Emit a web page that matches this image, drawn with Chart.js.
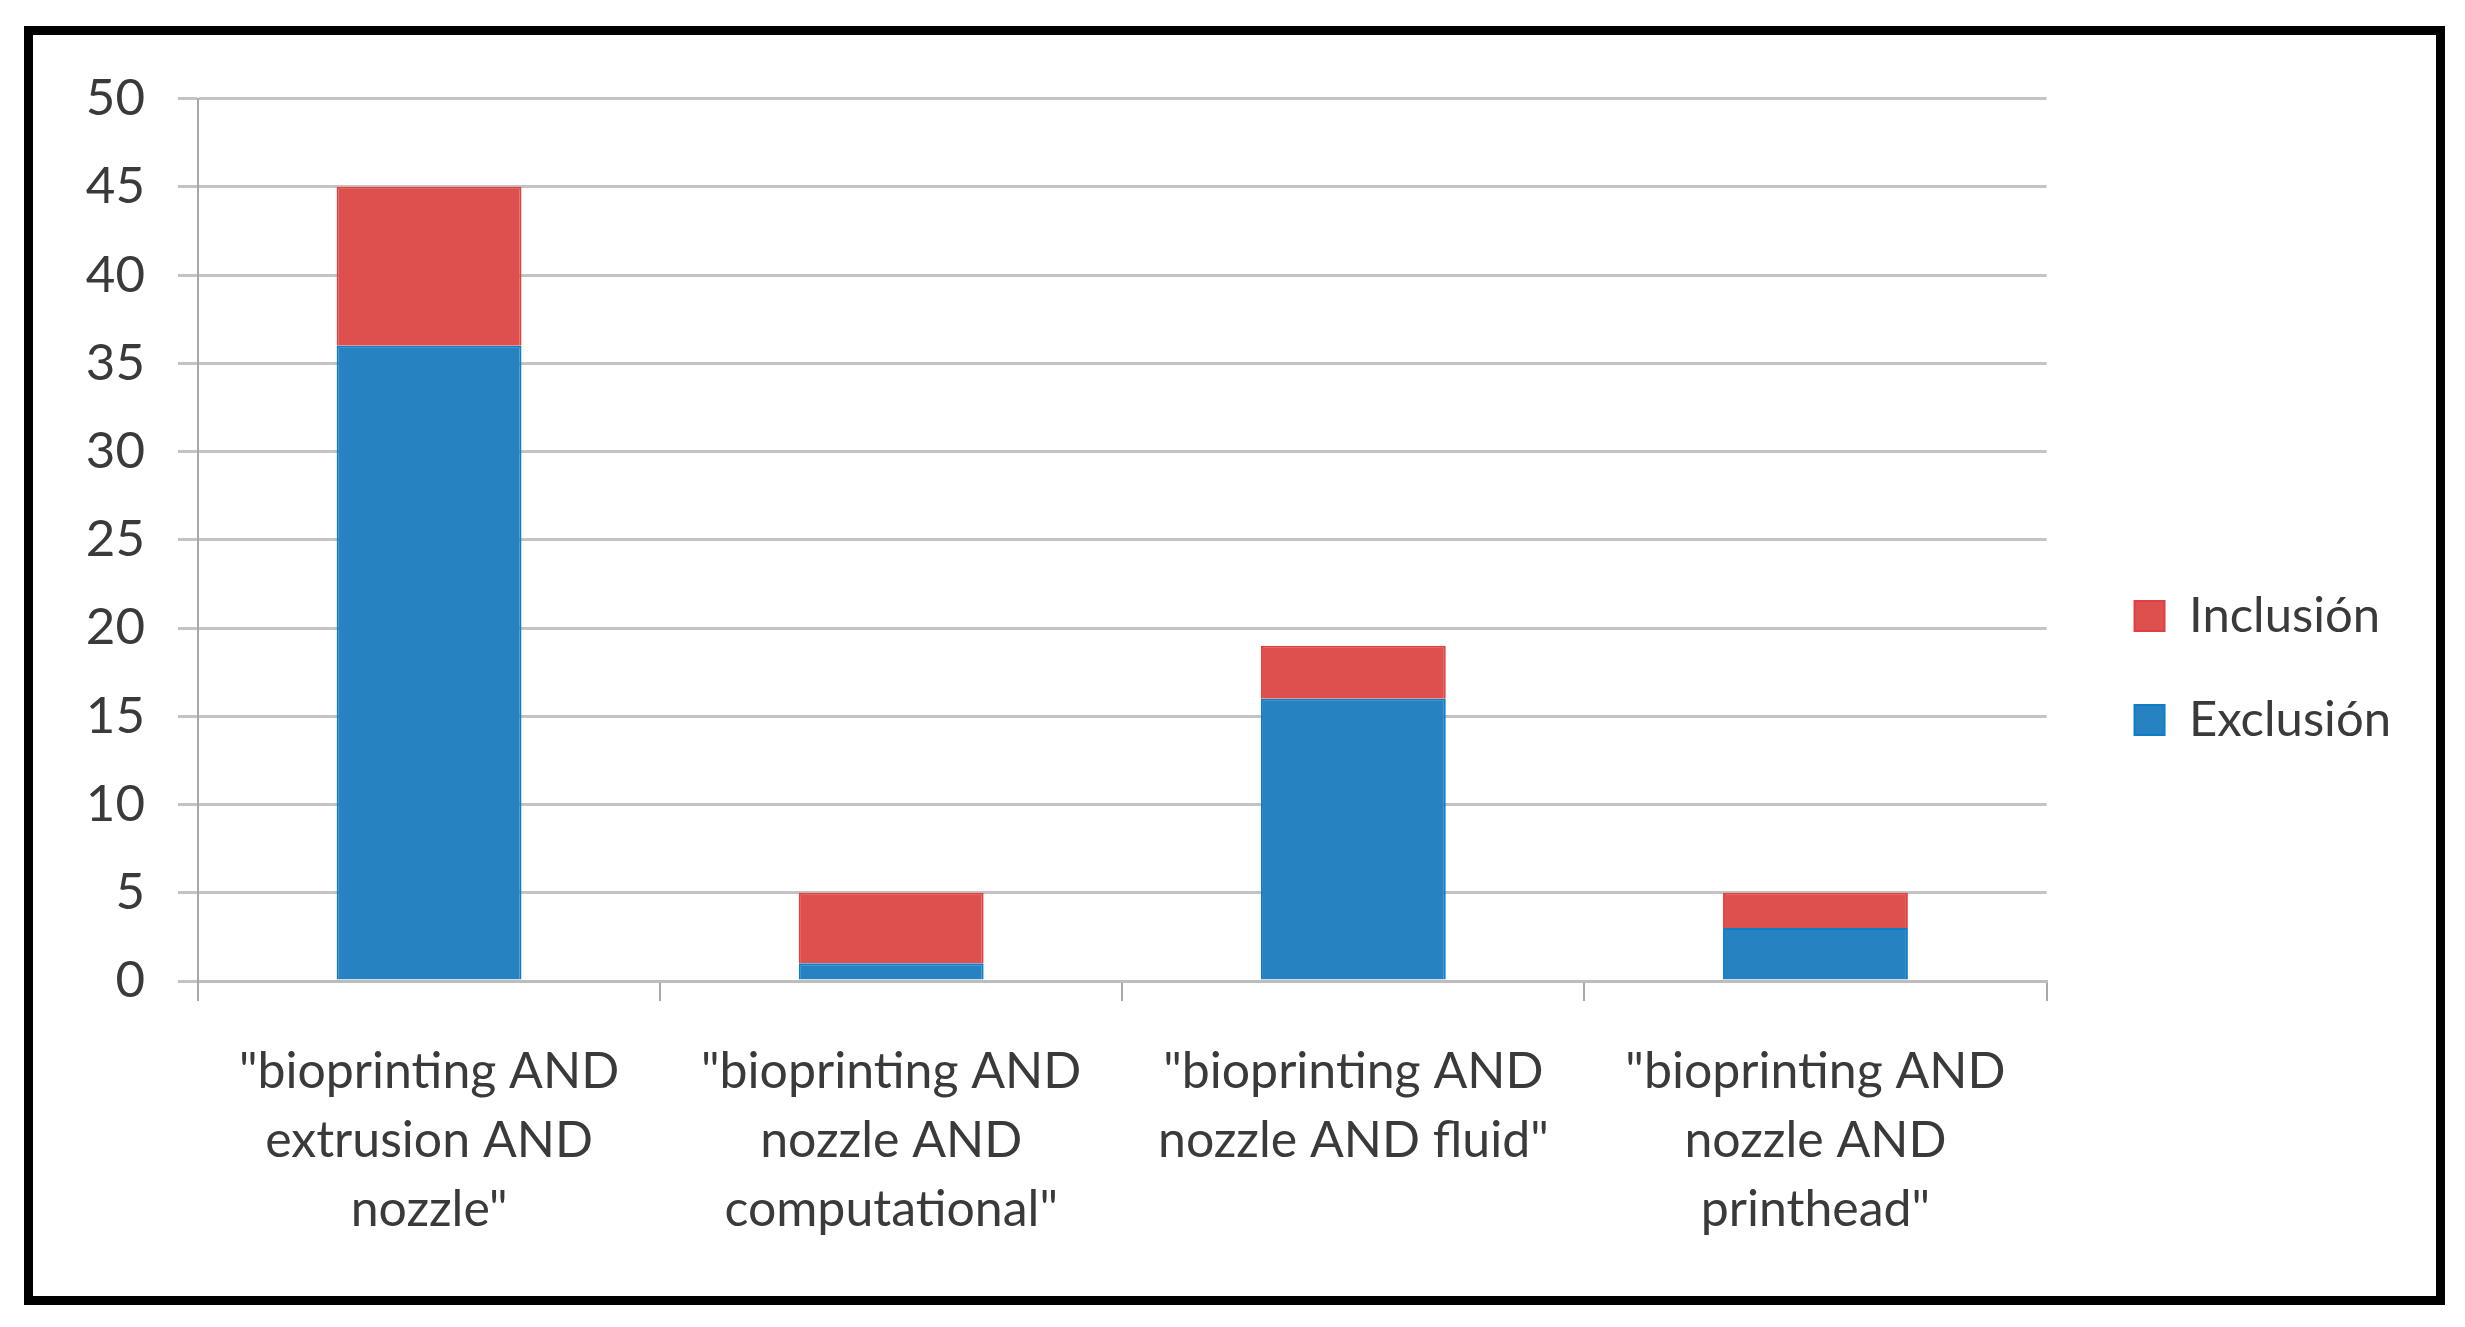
<!DOCTYPE html>
<html>
<head>
<meta charset="utf-8">
<script src="https://cdn.jsdelivr.net/npm/chart.js@4/dist/chart.umd.min.js"></script>
<style>
    body { margin: 0; background: #ffffff; }
    #frame {
        position: absolute;
        left: 24px;
        top: 26px;
        width: 2403px;
        height: 1261px;
        border: 9px solid #000000;
    }
    canvas { display: block; }
</style>
</head>
<body>
<div id="frame"><canvas id="barChart" width="2403" height="1261"></canvas></div>
<script>
const categories = [
    ['"bioprinting AND', 'extrusion AND', 'nozzle"'],
    ['"bioprinting AND', 'nozzle AND', 'computational"'],
    ['"bioprinting AND', 'nozzle AND fluid"'],
    ['"bioprinting AND', 'nozzle AND', 'printhead"']
];
const exclusion = [36, 1, 16, 3];
const inclusion = [9, 4, 3, 2];
const yTicks = [0, 5, 10, 15, 20, 25, 30, 35, 40, 45, 50];

const textColor = "#3a3a3a";
const fontFamily = "Lato, 'Open Sans', sans-serif";

// nudges the right-hand legend to where the original sits
const legendNudge = {
    id: "legendNudge",
    afterLayout(chart) {
        const lg = chart.legend;
        lg.left += 33; lg.right += 33;
        lg.top -= 25; lg.bottom -= 25;
    }
};

const ctx = document.getElementById("barChart").getContext("2d");

const barChart = new Chart(ctx, {
    type: "bar",
    data: {
        labels: categories,
        datasets: [
            {
                label: "Exclusión",
                data: exclusion,
                backgroundColor: "#2682c1",
                borderColor: "#0f7cc6",
                borderWidth: 2
            },
            {
                label: "Inclusión",
                data: inclusion,
                backgroundColor: "#dd504d",
                borderColor: "#e2403d",
                borderWidth: 2
            }
        ]
    },
    options: {
        responsive: false,
        animation: false,
        layout: {
            padding: { top: 55, left: 0, right: 68, bottom: 0 }
        },
        datasets: {
            bar: { categoryPercentage: 1.0, barPercentage: 0.4 }
        },
        plugins: {
            legend: {
                position: "right",
                reverse: true,
                labels: {
                    color: textColor,
                    font: { family: fontFamily, size: 49 },
                    boxWidth: 30,
                    boxHeight: 30,
                    padding: 55
                }
            },
            tooltip: { enabled: false }
        },
        scales: {
            x: {
                stacked: true,
                afterFit: s => { s.height = 315; },
                grid: {
                    drawOnChartArea: false,
                    color: "#a8a8a8",
                    lineWidth: 2,
                    tickLength: 20
                },
                border: { color: "#bdbdbd", width: 3 },
                ticks: {
                    color: textColor,
                    padding: 36,
                    maxRotation: 0,
                    autoSkip: false,
                    font: { family: fontFamily, size: 50, lineHeight: 1.38 }
                }
            },
            y: {
                stacked: true,
                min: 0,
                max: 50,
                afterFit: s => { s.width = 165; },
                afterBuildTicks: s => { s.ticks = yTicks.map(v => ({ value: v })); },
                grid: {
                    color: "#c3c3c3",
                    lineWidth: 3,
                    tickLength: 20
                },
                border: { color: "#a8a8a8", width: 2 },
                ticks: {
                    color: textColor,
                    padding: 33,
                    font: { family: fontFamily, size: 51 }
                }
            }
        }
    },
    plugins: [legendNudge]
});
</script>
</body>
</html>
